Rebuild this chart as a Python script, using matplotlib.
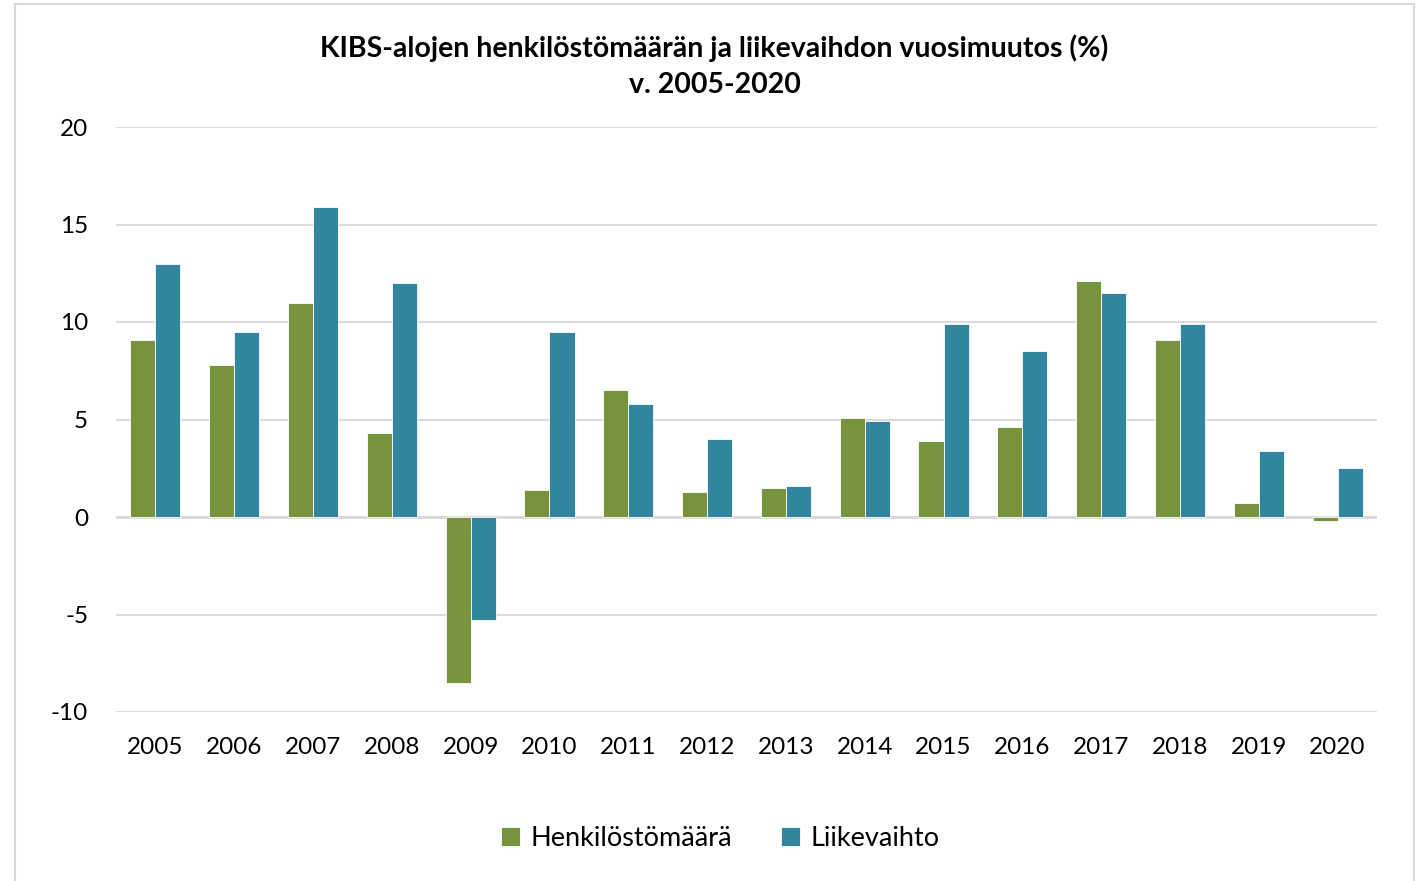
import matplotlib
matplotlib.use("Agg")
import matplotlib.pyplot as plt
import numpy as np
from matplotlib.patches import Rectangle

plt.rcParams['font.family'] = ['Lato', 'DejaVu Sans']

years = ['2005', '2006', '2007', '2008', '2009', '2010', '2011', '2012',
         '2013', '2014', '2015', '2016', '2017', '2018', '2019', '2020']
henkilosto = [9.1, 7.8, 11.0, 4.3, -8.5, 1.4, 6.5, 1.3, 1.5, 5.1, 3.9, 4.6, 12.1, 9.1, 0.7, -0.2]
liikevaihto = [13.0, 9.5, 15.9, 12.0, -5.3, 9.5, 5.8, 4.0, 1.6, 4.9, 9.9, 8.5, 11.5, 9.9, 3.4, 2.5]
series_names = ['Henkilöstömäärä', 'Liikevaihto']
title = 'KIBS-alojen henkilöstömäärän ja liikevaihdon vuosimuutos (%)\nv. 2005-2020'
yticks = [-10, -5, 0, 5, 10, 15, 20]

green = '#77933C'
blue = '#31859C'

W, H = 1422, 881
fig = plt.figure(figsize=(W / 100, H / 100), dpi=100)
fig.patches.append(Rectangle((15 / W, -0.01), (1414 - 15) / W, 1 - 4 / H + 0.01,
                             transform=fig.transFigure, fill=False,
                             edgecolor='#D9D9D9', linewidth=1.5))

ax = fig.add_axes([116 / W, 1 - 712 / H, (1377 - 116) / W, (712 - 127) / H])
x = np.arange(len(years))
bw = 0.318
ax.bar(x - bw / 2, henkilosto, bw, color=green, edgecolor='white', linewidth=0.6,
       label=series_names[0], zorder=3)
ax.bar(x + bw / 2, liikevaihto, bw, color=blue, edgecolor='white', linewidth=0.6,
       label=series_names[1], zorder=3)

ax.set_xlim(-0.5, len(years) - 0.5)
ax.set_ylim(-10, 20)
ax.set_yticks(yticks)
ax.set_yticklabels([str(v) for v in yticks])
ax.set_xticks(x)
ax.set_xticklabels(years)
ax.yaxis.grid(True, color='#D9D9D9', linewidth=1.3, zorder=0)
ax.axhline(0, color='#D9D9D9', linewidth=2.0, zorder=2)
for s in ax.spines.values():
    s.set_visible(False)
ax.tick_params(axis='both', length=0, labelsize=17.5, colors='black')
ax.tick_params(axis='y', pad=20)
ax.tick_params(axis='x', pad=18)

fig.text(0.5025, 1 - 66 / H, title, ha='center', va='center', fontsize=20.5,
         fontweight='bold', linespacing=1.5)

leg = fig.legend(loc='center', bbox_to_anchor=(0.5065, 1 - 838 / H), ncol=2,
                 frameon=False, fontsize=19.5, handlelength=0.7, handleheight=0.7,
                 handletextpad=0.4, columnspacing=1.8)

fig.savefig('out.png', dpi=100)
